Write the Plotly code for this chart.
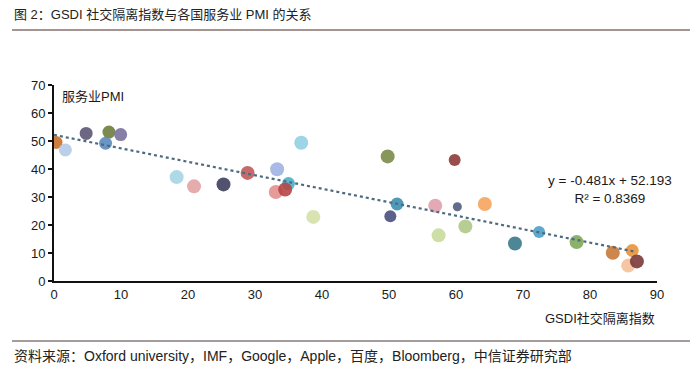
import plotly.graph_objects as go

# GSDI social distancing index (x) vs services PMI (y)
gsdi = [0.3, 1.7, 4.8, 8.2, 7.7, 9.95, 18.3, 20.9, 25.3, 28.9, 33.3, 35.0, 33.1, 34.5, 36.9, 38.7,
        49.8, 59.8, 51.2, 50.2, 56.9, 60.2, 64.3, 61.4, 57.4, 68.8, 72.4, 78.0, 83.4, 86.3, 85.7, 87.0]
pmi = [49.5, 46.8, 52.7, 53.2, 49.2, 52.3, 37.1, 33.8, 34.5, 38.6, 39.9, 34.8, 31.8, 32.7, 49.4, 22.9,
       44.5, 43.2, 27.5, 23.1, 26.9, 26.5, 27.5, 19.5, 16.3, 13.4, 17.5, 13.9, 10.1, 10.9, 5.5, 7.0]
colors = ["#c8702a", "#b4cbe6", "#5c5776", "#6e7d3e", "#5b8bbd", "#7a719b", "#a6d5e4", "#e3a3a3",
          "#3e3f5e", "#c05a5a", "#9fb3e2", "#4aaec8", "#e39090", "#b84545", "#92d0e4", "#d4e0a8",
          "#7a8c4a", "#8e3a3a", "#3d8fb0", "#4a5080", "#e0a0ac", "#4f5e7c", "#f5a45e", "#b0c888",
          "#c8dc9c", "#3a7a8a", "#4aa0c8", "#7fa85a", "#c87a3a", "#e8943a", "#f5c09a", "#7a3838"]
sizes = [13, 13, 13, 13, 13, 13, 14, 14, 14, 14, 14, 13, 14, 14, 14, 14,
         14, 12, 13, 12, 14, 9, 14, 14, 14, 14, 12, 14, 14, 13, 14, 14]

slope = -0.481
intercept = 52.193
trend_x = [0, 86.5]
trend_y = [slope * v + intercept for v in trend_x]

x_ticks = [0, 10, 20, 30, 40, 50, 60, 70, 80, 90]
y_ticks = [0, 10, 20, 30, 40, 50, 60, 70]

FONT = "Liberation Sans, Arial, Noto Sans CJK SC"

# plot area in page pixels: x 54..657, y 85..281 (page has an 8px body offset)
PX0, PX1, PY0, PY1 = 54, 657, 85, 281


def px(xpix):
    return (xpix - PX0) / (PX1 - PX0)


def py(ypix):
    return (PY1 - ypix) / (PY1 - PY0)


fig = go.Figure()
fig.add_trace(go.Scatter(
    x=gsdi, y=pmi, mode="markers",
    marker=dict(color=colors, size=sizes, opacity=0.9, line=dict(width=0)),
    cliponaxis=True, showlegend=False, hoverinfo="skip"))
fig.add_trace(go.Scatter(
    x=trend_x, y=trend_y, mode="lines",
    line=dict(color="#4d6a7e", width=2.2, dash="dot"),
    showlegend=False, hoverinfo="skip"))

fig.update_layout(
    width=692, height=363, autosize=False,
    margin=dict(l=46, r=43, t=77, b=90),
    paper_bgcolor="white", plot_bgcolor="white",
    font=dict(family=FONT, size=13, color="#1a1a1a"),
    xaxis=dict(range=[0, 90], tickvals=x_ticks, showgrid=False, zeroline=False,
               showline=True, linecolor="#111", linewidth=2, ticks="",
               tickfont=dict(size=13, color="#1a1a1a")),
    yaxis=dict(range=[0, 70], tickvals=y_ticks, showgrid=False, zeroline=False,
               showline=True, linecolor="#111", linewidth=2, ticks="outside",
               ticklen=4, tickwidth=2, tickcolor="#111",
               tickfont=dict(size=13, color="#1a1a1a")),
)

fig.add_annotation(xref="paper", yref="paper", x=px(12), y=py(15), xanchor="left", yanchor="middle",
                   text="图 2：GSDI 社交隔离指数与各国服务业 PMI 的关系", showarrow=False,
                   font=dict(size=13, color="#222"))
fig.add_shape(type="line", xref="paper", yref="paper", x0=px(12), x1=px(690),
              y0=py(30), y1=py(30), line=dict(color="#4a2a26", width=1.2))
fig.add_shape(type="line", xref="paper", yref="paper", x0=px(12), x1=px(690),
              y0=py(341), y1=py(341), line=dict(color="#4a3a38", width=1))
fig.add_annotation(xref="paper", yref="paper", x=px(12), y=py(356), xanchor="left", yanchor="middle",
                   text="资料来源：Oxford university，IMF，Google，Apple，百度，Bloomberg，中信证券研究部",
                   showarrow=False, font=dict(size=14, color="#222"))
fig.add_annotation(xref="paper", yref="paper", x=1, y=py(318), xanchor="right", yanchor="middle",
                   text="GSDI社交隔离指数", showarrow=False, font=dict(size=13, color="#1a1a1a"))
fig.add_annotation(xref="x", yref="y", x=0.9, y=66, xanchor="left", yanchor="middle",
                   text="服务业PMI", showarrow=False, font=dict(size=13, color="#1a1a1a"))
fig.add_annotation(xref="x", yref="y", x=83.0, y=32.7, xanchor="center", yanchor="middle",
                   text="y = -0.481x + 52.193<br>R² = 0.8369", showarrow=False,
                   font=dict(size=13.5, color="#1a1a1a"))

fig.write_html("out.html")
